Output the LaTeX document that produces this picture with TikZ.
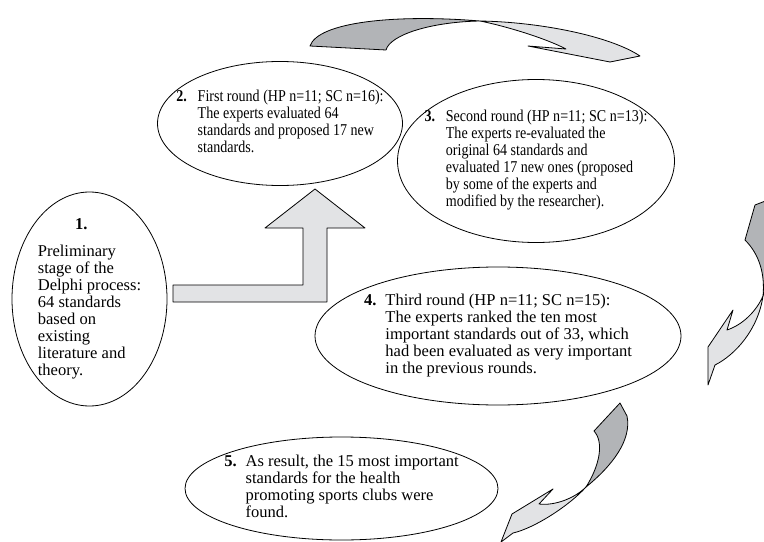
\documentclass[tikz,border=0pt]{standalone}
\usepackage{fontspec}
\setmainfont{Liberation Serif}
\newfontfamily\narrowserif[FakeStretch=0.85]{Liberation Serif}
\usepackage{tikz}
\usetikzlibrary{shapes.geometric}
\definecolor{arrowdark}{HTML}{B2B4B7}
\definecolor{arrowlight}{HTML}{E2E3E5}
\newcommand{\phasenum}[1]{\makebox[16pt][l]{\textbf{#1}}}

\begin{document}
\begin{tikzpicture}[
  x=0.75pt, y=-0.75pt,
  phase/.style={draw, ellipse, inner sep=-40pt, line width=0.6pt, font=\fontsize{12.4}{12.75}\selectfont},
  narrow/.style={font=\narrowserif\fontsize{12.4}{12.75}\selectfont},
  tailpart/.style={draw, fill=arrowdark, line width=0.6pt, line join=round},
  headpart/.style={draw, fill=arrowlight, line width=0.6pt, line join=round}
]
\clip (0,0) rectangle (764,542);

\node[phase, minimum width=116.25pt, minimum height=160.5pt] (prelim) at (89.5,299) {%
  \begin{tabular}{@{}l@{}}
  \hspace{28pt}\textbf{1.}\\[7pt]
  Preliminary\\ stage of the\\ Delphi process:\\ 64 standards\\ based on\\ existing\\ literature and\\ theory.
  \end{tabular}};
\node[phase, narrow, minimum width=183.75pt, minimum height=93pt] (round1) at (280,123.5) {%
  \begin{tabular}{@{}l@{}l@{}}
  \phasenum{2.} & First round (HP n=11; SC n=16):\\
  & The experts evaluated 64\\
  & standards and proposed 17 new\\
  & standards.
  \end{tabular}};
\node[phase, narrow, minimum width=207.75pt, minimum height=122.25pt] (round2) at (536,161) {%
  \begin{tabular}{@{}l@{}l@{}}
  \phasenum{3.} & Second round (HP n=11; SC n=13):\\
  & The experts re-evaluated the\\
  & original 64 standards and\\
  & evaluated 17 new ones (proposed\\
  & by some of the experts and\\
  & modified by the researcher).
  \end{tabular}};
\node[phase, minimum width=274.5pt, minimum height=103.5pt] (round3) at (498,336) {%
  \begin{tabular}{@{}l@{}l@{}}
  \phasenum{4.} & Third round (HP n=11; SC n=15):\\
  & The experts ranked the ten most\\
  & important standards out of 33, which\\
  & had been evaluated as very important\\
  & in the previous rounds.
  \end{tabular}};
\node[phase, minimum width=234.75pt, minimum height=77.25pt] (result) at (341.5,488.5) {%
  \begin{tabular}{@{}l@{}l@{}}
  \phasenum{5.} & As result, the 15 most important\\
  & standards for the health\\
  & promoting sports clubs were\\
  & found.
  \end{tabular}};

\draw[headpart] (173,285) -- (303,285) -- (303,228) -- (265,228) -- (315,189) -- (365,228) -- (327,228) -- (327,302) -- (173,302) -- cycle;

\draw[tailpart] (310,46) -- (386,50) .. controls (390,35) and (430,22) .. (480,21) .. controls (395,14) and (318,22) .. (310,46) -- cycle;
\draw[headpart] (480,21) .. controls (540,22) and (610,36) .. (640,56) -- (610,62) -- (528,46) -- (566,49) .. controls (545,38) and (505,26) .. (480,21) -- cycle;

\draw[tailpart] (755,205) -- (745,240) .. controls (760,255) and (765,275) .. (763,296) .. controls (772,270) and (776,230) .. (768,200) -- cycle;
\draw[headpart] (763,296) .. controls (758,330) and (735,355) .. (715,365) -- (708,385) -- (708,347) -- (733,310) -- (727,330) .. controls (742,325) and (756,312) .. (763,296) -- cycle;

\draw[tailpart] (620,403) -- (594,431) .. controls (604,442) and (600,465) .. (586,487) .. controls (612,466) and (632,440) .. (627,416) -- cycle;
\draw[headpart] (586,487) .. controls (570,505) and (535,528) .. (513,533) -- (501,542) -- (512,514) -- (553,489) -- (539,504) .. controls (555,506) and (575,498) .. (586,487) -- cycle;

\end{tikzpicture}
\end{document}
